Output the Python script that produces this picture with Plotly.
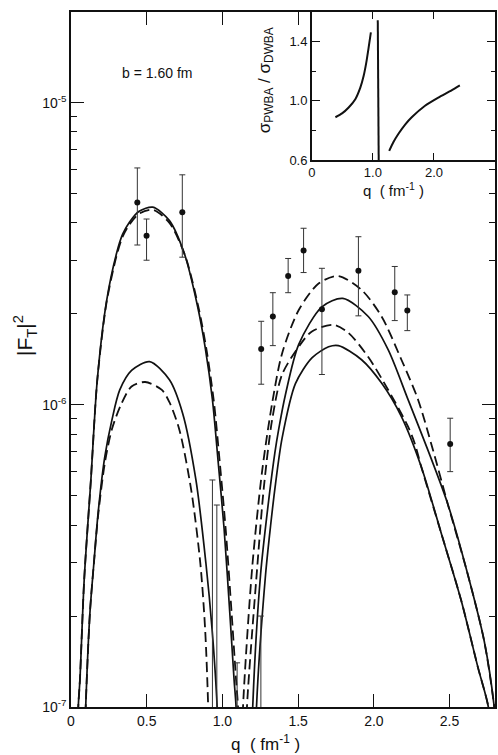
import plotly.graph_objects as go

# ---------------- data ----------------
# measured points |F_T|^2 vs q
q_data = [0.438, 0.499, 0.735, 1.256, 1.333, 1.434, 1.536, 1.657, 1.898, 2.138, 2.221, 2.504]
F_data = [4.67e-6, 3.63e-6, 4.34e-6, 1.53e-6, 1.96e-6, 2.67e-6, 3.24e-6, 2.07e-6, 2.78e-6, 2.36e-6, 2.05e-6, 7.42e-7]
F_hi   = [6.08e-6, 4.12e-6, 5.77e-6, 1.89e-6, 2.35e-6, 3.05e-6, 3.84e-6, 2.83e-6, 3.60e-6, 2.87e-6, 2.31e-6, 9.03e-7]
F_lo   = [3.38e-6, 3.01e-6, 3.08e-6, 1.17e-6, 1.57e-6, 2.35e-6, 2.74e-6, 1.26e-6, 1.97e-6, 1.90e-6, 1.76e-6, 6.01e-7]

# points whose central value lies below the plotted range (only upper part of bar visible)
q_low    = [0.934, 0.963, 1.097, 1.254]
F_low    = [5e-8, 5e-8, 5e-8, 5e-8]
F_low_hi = [5.64e-7, 4.66e-7, 1.40e-7, 2.0e-7]

# first lobe, large pair
q_s1a = [0.040, 0.048, 0.059, 0.087, 0.131, 0.173, 0.234, 0.30, 0.341, 0.387, 0.45, 0.54, 0.65, 0.749, 0.834, 0.886, 0.934, 0.972, 1.011, 1.05, 1.077, 1.09, 1.10]
F_s1a = [6.0e-8, 1.0e-7, 1.23e-7, 2.63e-7, 5.62e-7, 1.20e-6, 2.19e-6, 3.16e-6, 3.67e-6, 4.03e-6, 4.37e-6, 4.51e-6, 4.07e-6, 3.16e-6, 2.14e-6, 1.55e-6, 1.04e-6, 6.46e-7, 3.89e-7, 2.0e-7, 1.23e-7, 1.0e-7, 6.0e-8]
q_d1a = [0.040, 0.048, 0.059, 0.087, 0.131, 0.173, 0.234, 0.30, 0.341, 0.387, 0.45, 0.54, 0.65, 0.755, 0.842, 0.895, 0.944, 0.983, 1.022, 1.062, 1.09, 1.103, 1.113]
F_d1a = [6.0e-8, 1.0e-7, 1.23e-7, 2.63e-7, 5.62e-7, 1.20e-6, 2.17e-6, 3.10e-6, 3.60e-6, 3.96e-6, 4.29e-6, 4.42e-6, 4.00e-6, 3.10e-6, 2.10e-6, 1.52e-6, 1.02e-6, 6.4e-7, 3.85e-7, 2.0e-7, 1.23e-7, 1.0e-7, 6.0e-8]
# first lobe, small pair
q_s2a = [0.085, 0.097, 0.125, 0.153, 0.179, 0.223, 0.27, 0.322, 0.40, 0.519, 0.65, 0.737, 0.825, 0.891, 0.932, 0.965, 0.975]
F_s2a = [6.0e-8, 1.0e-7, 2.05e-7, 3.07e-7, 4.39e-7, 6.73e-7, 8.9e-7, 1.12e-6, 1.30e-6, 1.39e-6, 1.21e-6, 9.38e-7, 5.64e-7, 2.99e-7, 1.80e-7, 1.0e-7, 6.0e-8]
q_d2a = [0.085, 0.097, 0.125, 0.153, 0.179, 0.223, 0.27, 0.33, 0.40, 0.49, 0.60, 0.65, 0.716, 0.794, 0.854, 0.886, 0.906, 0.915]
F_d2a = [6.0e-8, 1.0e-7, 2.05e-7, 3.07e-7, 4.3e-7, 6.4e-7, 8.3e-7, 1.0e-6, 1.15e-6, 1.19e-6, 1.12e-6, 1.02e-6, 8.26e-7, 5.22e-7, 2.99e-7, 1.80e-7, 1.0e-7, 6.0e-8]

# second lobe
q_d1b = [1.125, 1.136, 1.197, 1.263, 1.328, 1.394, 1.504, 1.635, 1.762, 1.919, 2.051, 2.182, 2.292, 2.39, 2.488, 2.62, 2.729, 2.795, 2.81]
F_d1b = [6.0e-8, 1.0e-7, 2.91e-7, 6.08e-7, 1.01e-6, 1.48e-6, 2.06e-6, 2.52e-6, 2.67e-6, 2.40e-6, 1.96e-6, 1.41e-6, 1.04e-6, 7.10e-7, 4.70e-7, 2.75e-7, 1.65e-7, 1.0e-7, 8.0e-8]
q_s1b = [1.19, 1.20, 1.252, 1.307, 1.346, 1.372, 1.416, 1.504, 1.657, 1.795, 1.963, 2.095, 2.226, 2.357, 2.488, 2.62, 2.729, 2.795, 2.81]
F_s1b = [6.0e-8, 1.0e-7, 2.75e-7, 4.90e-7, 6.92e-7, 8.32e-7, 1.08e-6, 1.585e-6, 2.11e-6, 2.25e-6, 1.96e-6, 1.52e-6, 1.04e-6, 7.08e-7, 4.70e-7, 2.75e-7, 1.65e-7, 1.0e-7, 8.0e-8]
q_d2b = [1.15, 1.162, 1.23, 1.274, 1.328, 1.394, 1.515, 1.591, 1.733, 1.832, 1.963, 2.095, 2.226, 2.27, 2.313, 2.445, 2.576, 2.686, 2.756, 2.77]
F_d2b = [6.0e-8, 1.0e-7, 2.91e-7, 5.36e-7, 8.91e-7, 1.26e-6, 1.585e-6, 1.75e-6, 1.84e-6, 1.73e-6, 1.44e-6, 1.12e-6, 8.47e-7, 7.45e-7, 6.24e-7, 3.76e-7, 2.26e-7, 1.36e-7, 1.0e-7, 8.0e-8]
q_s2b = [1.215, 1.225, 1.285, 1.318, 1.351, 1.394, 1.482, 1.591, 1.701, 1.766, 1.919, 2.051, 2.182, 2.313, 2.445, 2.576, 2.686, 2.756, 2.77]
F_s2b = [6.0e-8, 1.0e-7, 2.75e-7, 3.98e-7, 5.50e-7, 7.76e-7, 1.175e-6, 1.43e-6, 1.556e-6, 1.57e-6, 1.41e-6, 1.18e-6, 9.14e-7, 6.24e-7, 3.76e-7, 2.26e-7, 1.36e-7, 1.0e-7, 8.0e-8]

# inset: sigma_PWBA / sigma_DWBA
inset_q_left  = [0.386, 0.495, 0.603, 0.712, 0.794, 0.848, 0.891, 0.929, 0.967]
inset_r_left  = [0.889, 0.915, 0.955, 1.011, 1.089, 1.167, 1.256, 1.356, 1.462]
inset_q_spike = [1.08, 1.095]
inset_r_spike = [1.545, 0.6]
inset_q_right = [1.267, 1.337, 1.419, 1.528, 1.636, 1.854, 2.071, 2.288, 2.424]
inset_r_right = [0.662, 0.722, 0.778, 0.840, 0.889, 0.967, 1.022, 1.071, 1.105]

# axis ticks
x_tickvals = [0, 0.5, 1.0, 1.5, 2.0, 2.5]
x_ticktext = ["0", "0.5", "1.0", "1.5", "2.0", "2.5"]
y_tickvals = [1e-7, 1e-6, 1e-5]
y_ticktext = ["10<sup>-7</sup>", "10<sup>-6</sup>", "10<sup>-5</sup>"]
inset_x_tickvals = [0, 1, 2]
inset_x_ticktext = ["0", "1.0", "2.0"]
inset_y_tickvals = [0.6, 1.0, 1.4]
inset_y_ticktext = ["0.6", "1.0", "1.4"]

X_RANGE = [0, 2.8]
Y_RANGE_LOG = [-7, -4.7]
INSET_X_RANGE = [0, 3.0]
INSET_Y_RANGE = [0.6, 1.6]

FONT = "Liberation Sans, Arial, sans-serif"
BLACK = "#111111"

fig = go.Figure()

def curve(q, F, dashed):
    fig.add_trace(go.Scatter(
        x=q, y=F, mode="lines",
        line=dict(color=BLACK, width=1.7 if not dashed else 1.8,
                  dash="10px,5px" if dashed else "solid",
                  shape="spline", smoothing=0.8),
        hoverinfo="skip", showlegend=False, xaxis="x", yaxis="y"))

curve(q_s1a, F_s1a, False)
curve(q_d1a, F_d1a, True)
curve(q_s2a, F_s2a, False)
curve(q_d2a, F_d2a, True)
curve(q_d1b, F_d1b, True)
curve(q_s1b, F_s1b, False)
curve(q_d2b, F_d2b, True)
curve(q_s2b, F_s2b, False)

# data points with error bars
fig.add_trace(go.Scatter(
    x=q_data, y=F_data, mode="markers",
    marker=dict(color=BLACK, size=6),
    error_y=dict(type="data", symmetric=False,
                 array=[h - v for h, v in zip(F_hi, F_data)],
                 arrayminus=[v - l for v, l in zip(F_data, F_lo)],
                 color="#333333", thickness=1, width=3),
    showlegend=False, xaxis="x", yaxis="y"))

fig.add_trace(go.Scatter(
    x=q_low, y=F_low, mode="markers",
    marker=dict(color=BLACK, size=6),
    error_y=dict(type="data", symmetric=False,
                 array=[h - v for h, v in zip(F_low_hi, F_low)],
                 arrayminus=[0 for _ in F_low],
                 color="#333333", thickness=1, width=3),
    showlegend=False, xaxis="x", yaxis="y"))

# inset background (white) so main-axis mirror ticks do not show through
fig.add_trace(go.Scatter(
    x=[INSET_X_RANGE[0], INSET_X_RANGE[1], INSET_X_RANGE[1], INSET_X_RANGE[0], INSET_X_RANGE[0]],
    y=[INSET_Y_RANGE[0], INSET_Y_RANGE[0], INSET_Y_RANGE[1], INSET_Y_RANGE[1], INSET_Y_RANGE[0]],
    mode="lines", fill="toself", fillcolor="white", line=dict(width=0, color="white"),
    hoverinfo="skip", showlegend=False, xaxis="x2", yaxis="y2"))

for qq, rr in [(inset_q_left, inset_r_left), (inset_q_spike, inset_r_spike), (inset_q_right, inset_r_right)]:
    fig.add_trace(go.Scatter(
        x=qq, y=rr, mode="lines",
        line=dict(color=BLACK, width=2, shape="spline", smoothing=0.6),
        hoverinfo="skip", showlegend=False, xaxis="x2", yaxis="y2"))

minor_y = [m * 10.0 ** e for e in (-7, -6, -5) for m in range(2, 10)]

axis_common = dict(showline=True, linecolor=BLACK, linewidth=1.5, mirror="ticks",
                   ticks="inside", tickcolor=BLACK, showgrid=False, zeroline=False)

fig.update_layout(
    width=498, height=755,
    margin=dict(l=71, r=1, t=12, b=48),
    paper_bgcolor="white", plot_bgcolor="white",
    font=dict(family=FONT, color=BLACK, size=14),
    xaxis=dict(**axis_common, domain=[0, 1], range=X_RANGE, tickvals=x_tickvals,
               ticktext=x_ticktext, ticklen=13, tickwidth=1.2, tickfont=dict(size=14)),
    yaxis=dict(**axis_common, type="log", range=Y_RANGE_LOG, tickvals=y_tickvals,
               ticktext=y_ticktext, ticklen=13, tickwidth=1.2, tickfont=dict(size=14),
               minor=dict(ticks="inside", ticklen=6, tickwidth=1, tickcolor=BLACK, tickvals=minor_y)),
    xaxis2=dict(**axis_common, domain=[0.568, 1.0], anchor="y2", range=INSET_X_RANGE,
                tickvals=inset_x_tickvals, ticktext=inset_x_ticktext, ticklen=7,
                tickwidth=1, tickfont=dict(size=13)),
    yaxis2=dict(**axis_common, domain=[0.787, 1.0], anchor="x2", range=INSET_Y_RANGE,
                tickvals=inset_y_tickvals, ticktext=inset_y_ticktext, ticklen=8,
                tickwidth=1, tickfont=dict(size=13),
                minor=dict(ticks="inside", ticklen=4, tickwidth=1, tickcolor=BLACK, dtick=0.2)),
    annotations=[
        dict(text="b = 1.60 fm", x=0.569, y=-4.902, xref="x", yref="y",
             showarrow=False, font=dict(size=14)),
        dict(text="q  ( fm<sup>-1</sup> )", x=0.458, y=-0.052, xref="paper", yref="paper",
             showarrow=False, font=dict(size=17), xanchor="center", yanchor="middle"),
        dict(text="|F<sub>T</sub>|<sup>2</sup>", x=-0.108, y=0.534, xref="paper", yref="paper",
             showarrow=False, font=dict(size=21), textangle=-90, xanchor="center", yanchor="middle"),
        dict(text="q  ( fm<sup>-1</sup> )", x=0.761, y=0.744, xref="paper", yref="paper",
             showarrow=False, font=dict(size=15), xanchor="center", yanchor="middle"),
        dict(text="σ<sub>PWBA</sub> / σ<sub>DWBA</sub>", x=0.46, y=0.902, xref="paper", yref="paper",
             showarrow=False, font=dict(size=17), textangle=-90, xanchor="center", yanchor="middle"),
    ],
)

fig.write_html("out.html",
               config={"displayModeBar": False},
               post_script="document.body.style.margin='0';document.body.style.padding='0';")
